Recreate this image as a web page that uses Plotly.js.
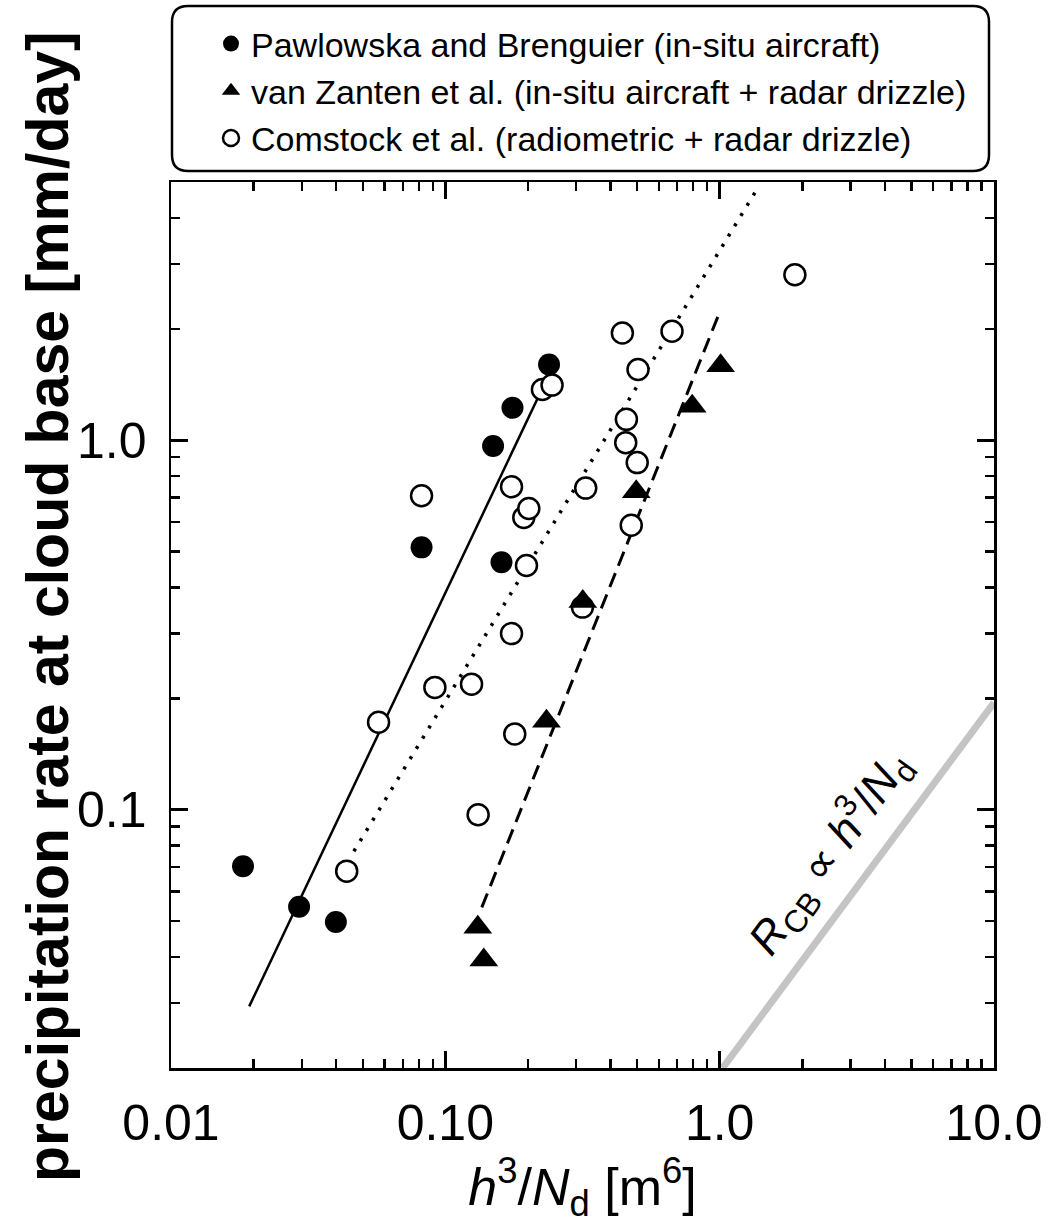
<!DOCTYPE html>
<html>
<head>
<meta charset="utf-8">
<script src="https://cdn.plot.ly/plotly-3.0.1.min.js"></script>
<style>html,body{margin:0;padding:0;background:#fff;}#chart{width:1049px;height:1227px;}</style>
</head>
<body>
<div id="chart"></div>
<script>
// ---- data ----
var seriesNames = [
  "Pawlowska and Brenguier (in-situ aircraft)",
  "van Zanten et al. (in-situ aircraft + radar drizzle)",
  "Comstock et al. (radiometric + radar drizzle)"
];
var pawX = [0.0183, 0.0293, 0.0399, 0.0819, 0.1493, 0.1602, 0.1757, 0.2388];
var pawY = [0.0703, 0.0546, 0.0497, 0.513, 0.965, 0.4675, 1.224, 1.603];

var vzX = [0.1313, 0.1381, 0.2337, 0.3169, 0.4963, 0.794, 1.008];
var vzY = [0.0481, 0.0392, 0.1735, 0.3662, 0.7253, 1.237, 1.59];

var comX = [0.0437, 0.0571, 0.0819, 0.0916, 0.1246, 0.1317, 0.1743, 0.1743, 0.1791, 0.1932, 0.2015, 0.1976,
            0.2259, 0.2449, 0.3249, 0.3161, 0.4419, 0.4571, 0.4545, 0.5005, 0.4761, 0.5039, 0.6703, 1.880];
var comY = [0.0682, 0.1725, 0.7076, 0.2143, 0.2187, 0.0969, 0.7482, 0.2997, 0.1603, 0.6181, 0.6538, 0.4580,
            1.3726, 1.4102, 0.7422, 0.3535, 1.951, 1.139, 0.985, 0.870, 0.5890, 1.554, 1.972, 2.804];

// fitted lines (end points)
var pawFitX = [0.01928, 0.2323];
var pawFitY = [0.02936, 1.445];
var comFitX = [0.04642, 1.364];
var comFitY = [0.0772, 4.763];
var vzFitX = [0.1358, 0.9858];
var vzFitY = [0.0544, 2.164];
var slopeOneX = [1.025, 10];
var slopeOneY = [0.02, 0.195];

var xTickVals = [0.01, 0.1, 1, 10];
var xTickText = ["0.01", "0.10", "1.0", "10.0"];
var yTickVals = [0.1, 1];
var yTickText = ["0.1", "1.0"];
var xMinorVals = [0.02,0.03,0.04,0.05,0.06,0.07,0.08,0.09,0.2,0.3,0.4,0.5,0.6,0.7,0.8,0.9,2,3,4,5,6,7,8,9];
var yMinorVals = [0.03,0.04,0.05,0.06,0.07,0.08,0.09,0.2,0.3,0.4,0.5,0.6,0.7,0.8,0.9,2,3,4];

var xTitle = "<i>h</i><sup>3</sup>/<i>N</i><sub>d</sub> [m<sup>6</sup>]";
var yTitle = "precipitation rate at cloud base [mm/day]";
var lineLabel = "<i>R</i><sub>CB</sub> \u221D <i>h</i><sup>3</sup>/<i>N</i><sub>d</sub>";

// ---- styling ----
var regular = "Liberation Sans, Arial, sans-serif";

var traces = [
  {x: slopeOneX, y: slopeOneY, mode: "lines", line: {color: "#c4c4c4", width: 7}, showlegend: false, hoverinfo: "skip"},
  {x: pawFitX, y: pawFitY, mode: "lines", line: {color: "#000", width: 2.5}, showlegend: false, hoverinfo: "skip"},
  {x: comFitX, y: comFitY, mode: "lines", line: {color: "#000", width: 3.5, dash: "3px,9px"}, showlegend: false, hoverinfo: "skip"},
  {x: vzFitX, y: vzFitY, mode: "lines", line: {color: "#000", width: 3, dash: "15px,8px"}, showlegend: false, hoverinfo: "skip"},
  {x: comX, y: comY, mode: "markers", name: seriesNames[2], legendrank: 3, legendgroup: "c",
   marker: {symbol: "circle", size: 21, color: "#fff", line: {color: "#000", width: 2.5}}},
  {x: vzX, y: vzY, mode: "markers", name: seriesNames[1], legendrank: 2, legendgroup: "b",
   marker: {symbol: "triangle-up", size: 25, color: "#000", line: {width: 0}}},
  {x: pawX, y: pawY, mode: "markers", name: seriesNames[0], legendrank: 1, legendgroup: "a",
   marker: {symbol: "circle", size: 22, color: "#000", line: {width: 0}}}
];

function axisBase() {
  return {
    type: "log", showline: true, linecolor: "#000", linewidth: 2.5, mirror: "ticks",
    ticks: "inside", ticklen: 17, tickwidth: 2.5, tickcolor: "#000",
    showgrid: false, zeroline: false, tickmode: "array",
    tickfont: {family: regular, size: 50, color: "#000"}
  };
}
var xaxis = axisBase();
xaxis.range = [-2, 1];
xaxis.tickvals = xTickVals; xaxis.ticktext = xTickText;
xaxis.minor = {tickmode: "array", tickvals: xMinorVals, ticks: "inside", ticklen: 9, tickwidth: 2.5, tickcolor: "#000", showgrid: false};
xaxis.title = {text: xTitle, font: {family: regular, size: 52, color: "#000"}, standoff: 8};
xaxis.ticklabelstandoff = 9;

var yaxis = axisBase();
yaxis.range = [Math.log10(0.02), Math.log10(5)];
yaxis.tickvals = yTickVals; yaxis.ticktext = yTickText;
yaxis.minor = {tickmode: "array", tickvals: yMinorVals, ticks: "inside", ticklen: 9, tickwidth: 2.5, tickcolor: "#000", showgrid: false};
yaxis.ticklabelstandoff = 12;

// rounded legend frame (paper coords)
var L = 171, W = 823, B = 1068, H = 886;
function px(v){ return (v - L) / W; }
function py(v){ return (B - v) / H; }
var bx0 = px(172), bx1 = px(989), byT = py(6), byB = py(171);
var rx = 16 / W, ry = 16 / H;
var framePath = "M" + (bx0+rx) + "," + byT + " L" + (bx1-rx) + "," + byT +
  " Q" + bx1 + "," + byT + " " + bx1 + "," + (byT-ry) +
  " L" + bx1 + "," + (byB+ry) + " Q" + bx1 + "," + byB + " " + (bx1-rx) + "," + byB +
  " L" + (bx0+rx) + "," + byB + " Q" + bx0 + "," + byB + " " + bx0 + "," + (byB+ry) +
  " L" + bx0 + "," + (byT-ry) + " Q" + bx0 + "," + byT + " " + (bx0+rx) + "," + byT + " Z";

var layout = {
  width: 1049, height: 1227,
  margin: {l: 171, r: 55, t: 182, b: 159},
  paper_bgcolor: "#fff", plot_bgcolor: "#fff",
  font: {family: regular, color: "#000"},
  xaxis: xaxis, yaxis: yaxis,
  showlegend: true,
  legend: {x: px(211), y: py(15), xanchor: "left", yanchor: "top", bgcolor: "rgba(0,0,0,0)",
           borderwidth: 0, font: {family: regular, size: 34, color: "#000"}, tracegroupgap: 3,
           traceorder: "normal"},
  shapes: [{type: "path", xref: "paper", yref: "paper", path: framePath,
            line: {color: "#000", width: 2.5}, fillcolor: "rgba(0,0,0,0)"}],
  annotations: [
    {xref: "paper", yref: "paper", x: px(48), y: py(607), text: "<b>" + yTitle + "</b>", showarrow: false,
     textangle: -90, xanchor: "center", yanchor: "middle", font: {family: regular, size: 59, color: "#000"}},
    {xref: "x", yref: "y", x: Math.log10(2.49), y: Math.log10(0.077), text: lineLabel, showarrow: false,
     textangle: -54, xanchor: "center", yanchor: "middle", font: {family: regular, size: 45, color: "#000"}}
  ]
};

Plotly.newPlot("chart", traces, layout, {displayModeBar: false, staticPlot: true});
</script>
</body>
</html>
